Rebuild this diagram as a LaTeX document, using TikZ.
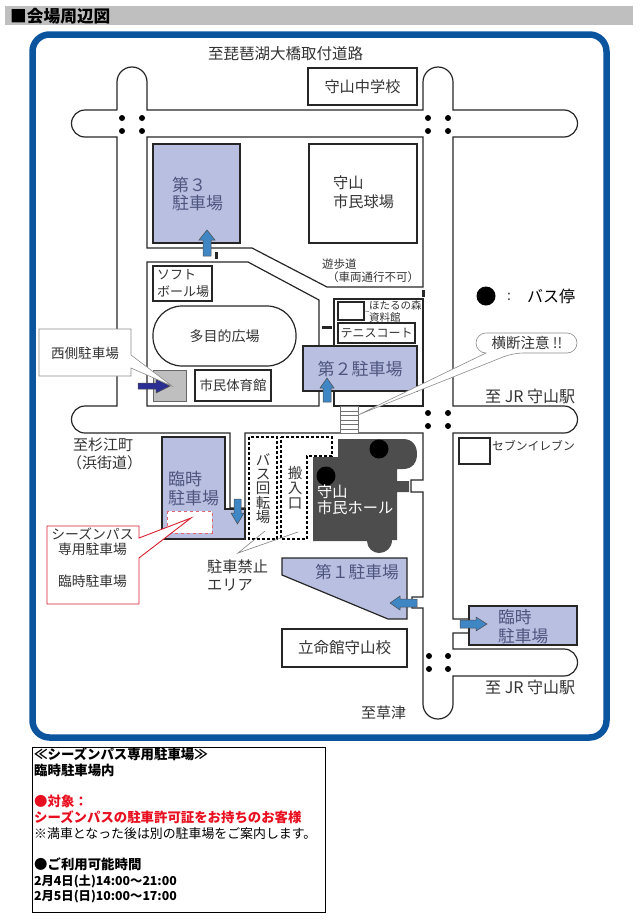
\documentclass[tikz,border=0pt]{standalone}
\usepackage{fontspec}
\setmainfont{Noto Sans CJK JP}
\definecolor{mapframe}{HTML}{0B559F}
\definecolor{parkfill}{HTML}{B9BFE0}
\definecolor{parktext}{HTML}{4E5680}
\definecolor{maptext}{HTML}{333333}
\definecolor{hallgray}{HTML}{4D4D4D}
\definecolor{arrowblue}{HTML}{3F86C4}
\definecolor{arrownavy}{HTML}{2B2F94}
\definecolor{calloutred}{HTML}{D8202F}
\definecolor{noticered}{HTML}{E81020}
\newcommand{\mapfont}[1]{\fontsize{#1}{#1}\selectfont}
\newcommand{\sizeskip}[2]{\fontsize{#1}{#2}\selectfont}
\tikzset{
  road/.style={line width=1.2pt,draw=black!85},
  housebox/.style={draw=black!85,line width=1.6pt,fill=white,inner sep=0pt,text=maptext},
  parkbox/.style={draw=black!85,line width=1.6pt,fill=parkfill},
  parkarrow/.style={draw=black!70,line width=.5pt,fill=arrowblue},
  maplabel/.style={text=maptext,inner sep=0pt,align=left},
  parklabel/.style={text=parktext,inner sep=0pt,align=left},
  calloutline/.style={draw=black!45,line width=.6pt,fill=white}
}
\begin{document}
\begin{tikzpicture}[x=1pt,y=-1pt]
        \useasboundingbox (0,0) rectangle (641,921);
        %title
        \fill[black!25] (5,6) rectangle (633,25);
        \draw (10,16) node (titlelabel) [anchor=west,inner sep=0pt,font=\sizeskip{16.7}{18}\bfseries] {■会場周辺図};
        \draw[mapframe,line width=6.5pt,rounded corners=17pt] (32.5,34.5) rectangle (606.5,737.5);

        %roads
        \draw[road] (117,110) -- (117,82) arc[start angle=180,end angle=360,radius=15] -- (147,110) -- (423,110)
          -- (423,82) arc[start angle=180,end angle=360,radius=15] -- (453,110) -- (564,110)
          arc[start angle=270,end angle=450,radius=13.5] -- (453,137) -- (453,406) -- (564,406)
          arc[start angle=270,end angle=450,radius=13.5] -- (453,433) -- (453,619) -- (469,619);
        \draw[road] (469,633) -- (453,633) -- (453,649) -- (564,649)
          arc[start angle=270,end angle=450,radius=13.5] -- (453,676) -- (453,704)
          arc[start angle=0,end angle=180,radius=15] -- (423,608) -- (412,608) -- (412,597) -- (423,597)
          -- (423,492) -- (411,492) -- (411,480) -- (423,480) -- (423,433) -- (245,433) -- (245,508) -- (230,508)
          -- (230,433) -- (85,433) arc[start angle=90,end angle=270,radius=13.5] -- (117,406) -- (117,137) -- (85,137)
          arc[start angle=90,end angle=270,radius=13.5] -- (117,110);
        \draw[road] (147,137) -- (423,137) -- (423,287) -- (327,287) -- (252,248) -- (147,248) -- cycle;
        \draw[road] (319,392) -- (319,406) -- (147,406) -- (147,262) -- (248,262) -- (319,300) -- (319,346);
        \draw[road] (334,346) -- (334,299) -- (423,299) -- (423,406) -- (334,406) -- (334,392);

        %marks on the footpath
        \fill[black!85] (214.5,252) rectangle (217.5,259);
        \fill[black!85] (322,325.5) rectangle (332,328.5);
        \fill[black!85] (421.5,290) rectangle (424.5,297);

        %crossing
        \draw[black!55,fill=white,line width=.8pt] (340,406) rectangle (358,433);
        \draw[black!55,line width=.8pt] (340,411) -- (358,411);
        \draw[black!55,line width=.8pt] (340,415.5) -- (358,415.5);
        \draw[black!55,line width=.8pt] (340,420) -- (358,420);
        \draw[black!55,line width=.8pt] (340,424.5) -- (358,424.5);
        \draw[black!55,line width=.8pt] (340,429) -- (358,429);

        %bus stops at the crossings
        \fill[black] (122,118) circle (3pt) (142,118) circle (3pt) (122,131) circle (3pt) (142,131) circle (3pt);
        \fill[black] (428,118) circle (3pt) (448,118) circle (3pt) (428,131) circle (3pt) (448,131) circle (3pt);
        \fill[black] (428,413) circle (3pt) (448,413) circle (3pt) (428,426) circle (3pt) (448,426) circle (3pt);
        \fill[black] (429,656) circle (3pt) (448,656) circle (3pt) (429,669) circle (3pt) (448,669) circle (3pt);

        %buildings
        \draw (362.5,86.5) node (schoolbox) [housebox,minimum width=109pt,minimum height=37pt,font=\mapfont{15.2}] {守山中学校};
        \draw (363,193.5) node (stadiumbox) [housebox,minimum width=108pt,minimum height=99pt] {};
        \draw (333,192.5) node (stadiumlabel) [maplabel,anchor=west,font=\sizeskip{15.2}{19}] {守山\\市民球場};
        \draw (182.5,283.5) node (softballbox) [housebox,minimum width=59pt,minimum height=35pt] {};
        \draw (157,283.5) node (softballlabel) [maplabel,anchor=west,font=\sizeskip{13}{17}] {ソフト\\ボール場};
        \draw (224.5,336) node (plazaoval) [housebox,line width=1.2pt,rounded corners=29pt,minimum width=143pt,minimum height=60pt,font=\mapfont{14}] {多目的広場};
        \draw (233,385.5) node (gymbox) [housebox,minimum width=76pt,minimum height=31pt,font=\mapfont{13.4}] {市民体育館};
        \draw (351,311) node (firefly) [housebox,line width=1.2pt,minimum width=26pt,minimum height=18pt] {};
        \draw (369,311.5) node (fireflylabel) [maplabel,anchor=west,font=\sizeskip{10.5}{11.5}] {ほたるの森\\資料館};
        \draw[black!60,line width=.5pt] (firefly.east) -- (fireflylabel.west);
        \draw (376.5,333) node (tennisbox) [housebox,minimum width=77pt,minimum height=20pt,font=\mapfont{12}] {テニスコート};
        \draw (474.5,451) node (storebox) [housebox,minimum width=31pt,minimum height=26pt] {};
        \draw (492,446) node (storelabel) [maplabel,anchor=west,font=\mapfont{11.8}] {セブンイレブン};
        \draw (344.5,648) node (collegebox) [housebox,minimum width=125pt,minimum height=38pt,font=\mapfont{15.5}] {立命館守山校};

        %hall
        \fill[hallgray] (338,439) -- (403,439) .. controls (413,439) and (417,446) .. (417,454)
          .. controls (417,462) and (413,469) .. (403,469) -- (397,469) -- (397,481) -- (409,481) -- (409,492)
          -- (397,492) -- (397,540) -- (392,540) .. controls (392,548) and (386,553) .. (379,553)
          .. controls (373,553) and (367,548) .. (367,541) -- (313,541) -- (313,457) -- (338,457) -- cycle;
        \fill[black] (379,449) circle (9.5pt);
        \fill[black] (326,476) circle (9.5pt);
        \draw (317,500) node (halllabel) [inner sep=0pt,text=white,align=left,anchor=west,font=\sizeskip{15.2}{16}] {守山\\市民ホール};

        %no parking areas
        \draw[black,densely dashed,line width=1.5pt] (249,437) rectangle (277,539);
        \draw[black,densely dashed,line width=1.5pt] (281,437) -- (332,437) -- (332,456) -- (307,456) -- (307,539) -- (281,539) -- cycle;
        \draw (263,488.5) node (turnlabel) [maplabel,align=center,font=\sizeskip{14.5}{14.4}] {バ\\ス\\回\\転\\場};
        \draw (295,488) node (loadlabel) [maplabel,align=center,font=\sizeskip{14.5}{15}] {搬\\入\\口};
        \draw[black!50,line width=.6pt] (265,531) -- (238,553) -- (298,532);
        \draw (207,575) node (nopark) [maplabel,anchor=west,font=\sizeskip{15.2}{18}] {駐車禁止\\エリア};

        %parking
        \draw[parkbox] (153,144) rectangle (240,243);
        \draw (172,194) node (parkthree) [parklabel,anchor=west,font=\sizeskip{17}{18.5}] {第３\\駐車場};
        \draw[parkbox] (303,346) rectangle (417,391);
        \draw (360,369) node (parktwo) [parklabel,font=\mapfont{17}] {第２駐車場};
        \draw[parkbox,line width=1.2pt] (282,558) -- (407,558) -- (407,619) -- (388,619) -- (282,575) -- cycle;
        \draw (357,572) node (parkone) [parklabel,font=\mapfont{16.8}] {第１駐車場};
        \draw[parkbox,line width=1.2pt] (162,437) -- (225,437) -- (225,509) -- (245,509) -- (245,539) -- (162,539) -- cycle;
        \draw (168,488.5) node (tempwest) [parklabel,anchor=west,font=\sizeskip{17}{19}] {臨時\\駐車場};
        \draw[parkbox,line width=2pt] (469,606) rectangle (577,645);
        \draw (498,626.5) node (tempeast) [parklabel,anchor=west,font=\sizeskip{16.7}{19}] {臨時\\駐車場};
        \draw[calloutred!70,dashed,fill=white,line width=.8pt] (167,511) rectangle (212,533);
        \draw[draw=black!60,line width=1pt,fill=black!25] (153,370) rectangle (186,401);

        %arrows
        \draw[parkarrow] (203,256) -- (203,240) -- (199,240) -- (207,230) -- (215,240) -- (211,240) -- (211,256) -- cycle;
        \draw[parkarrow] (323,402) -- (323,388) -- (320,388) -- (327,378) -- (334,388) -- (331,388) -- (331,402) -- cycle;
        \draw[parkarrow] (234,499) -- (234,513) -- (231,513) -- (237.5,524) -- (244,513) -- (241,513) -- (241,499) -- cycle;
        \draw[parkarrow] (417,599) -- (400,599) -- (400,596) -- (390,603) -- (400,610) -- (400,607) -- (417,607) -- cycle;
        \draw[parkarrow] (460,620) -- (476,620) -- (476,617) -- (487,624) -- (476,631) -- (476,628) -- (460,628) -- cycle;
        \draw[parkarrow,fill=arrownavy] (138,383) -- (156,383) -- (156,379) -- (170,386) -- (156,393) -- (156,389) -- (138,389) -- cycle;

        %callouts
        \draw[calloutline] (39,329) -- (131,329) -- (131,355) -- (172,386) -- (131,368) -- (131,376) -- (39,376) -- cycle;
        \draw (85,353) node (westlabel) [maplabel,font=\mapfont{13.6}] {西側駐車場};
        \draw[calloutline,rounded corners=10pt] (476,333) -- (577,333) -- (577,353) -- (513,353) [sharp corners] -- (358,415) -- (486,353) [rounded corners=10pt] -- (476,353) -- cycle;
        \draw (527,343) node (cautionlabel) [maplabel,font=\mapfont{14.5}] {横断注意 !!};
        \draw[draw=calloutred,fill=white,line width=.9pt] (47,526) -- (139,526) -- (139,538) -- (191,518) -- (139,558) -- (139,604) -- (47,604) -- cycle;
        \draw (92.5,534) node (seasonlabel) [maplabel,font=\mapfont{13.8}] {シーズンパス};
        \draw (92.5,549) node (seasonlabelb) [maplabel,font=\mapfont{13.8}] {専用駐車場};
        \draw (92.5,581) node (seasonlabelc) [maplabel,font=\mapfont{13.8}] {臨時駐車場};

        %place names
        \draw (208,54) node (topname) [maplabel,anchor=west,font=\mapfont{15.5}] {至琵琶湖大橋取付道路};
        \draw (322,264) node (pathname) [maplabel,anchor=west,font=\mapfont{11.5}] {遊歩道};
        \draw (327,277) node (pathnote) [maplabel,anchor=west,font=\mapfont{11.5}] {（車両通行不可）};
        \draw (73,454) node (westname) [maplabel,anchor=west,font=\sizeskip{15}{18}] {至杉江町\\\hspace*{-6pt}（浜街道）};
        \draw (485,396) node (eastname) [maplabel,anchor=west,font=\mapfont{16}] {至 JR 守山駅};
        \draw (485,687) node (eastnameb) [maplabel,anchor=west,font=\mapfont{16}] {至 JR 守山駅};
        \draw (361,713) node (southname) [maplabel,anchor=west,font=\mapfont{15}] {至草津};

        %legend
        \fill[black] (486,296) circle (9.5pt);
        \draw (509,297) node (legendcolon) [maplabel,font=\mapfont{14}] {:};
        \draw (527,296) node (legendlabel) [maplabel,anchor=west,text=black,font=\mapfont{16}] {バス停};

        %notice
        \draw[black,line width=.8pt] (32,747) rectangle (325,912);
        \draw (34,748) node (noticetext) [anchor=north west,inner sep=0pt,align=left,font=\sizeskip{13.4}{15.67}] {%
          \textbf{≪シーズンパス専用駐車場≫}\\
          \textbf{臨時駐車場内}\\
          \mbox{}\\
          \textcolor{noticered}{\textbf{●対象：}}\\
          \textcolor{noticered}{\textbf{シーズンパスの駐車許可証をお持ちのお客様}}\\
          {\fontsize{12.9}{15.67}\selectfont ※満車となった後は別の駐車場をご案内します。}\\
          \mbox{}\\
          \textbf{●ご利用可能時間}\\
          {\fontsize{12.3}{15.67}\selectfont\textbf{2月4日(土)14:00～21:00}}\\
          {\fontsize{12.3}{15.67}\selectfont\textbf{2月5日(日)10:00～17:00}}};
    \end{tikzpicture}
\end{document}
